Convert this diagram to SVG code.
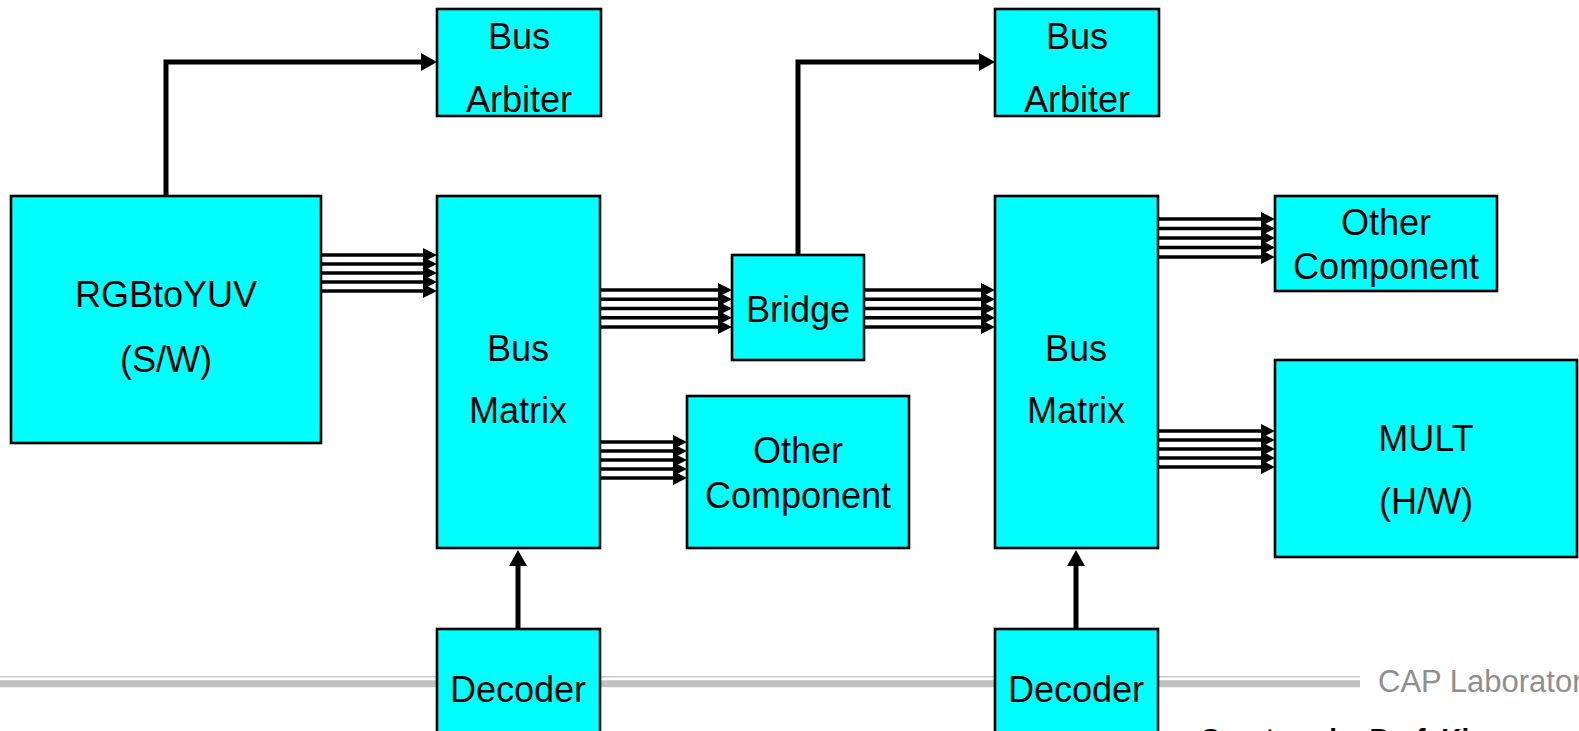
<svg xmlns="http://www.w3.org/2000/svg" width="1579" height="731" viewBox="0 0 1579 731">
<style>
.box{fill:#00ffff;stroke:#000;stroke-width:2.6}
.t{font-family:"Liberation Sans",Arial,sans-serif;font-size:36px;fill:#000;text-anchor:middle}
.bus{stroke:#000;stroke-width:3.4;fill:none;marker-end:url(#sa)}
.ctl{stroke:#000;stroke-width:5;fill:none;marker-end:url(#la)}
</style>
<defs>
<marker id="sa" viewBox="0 0 14 14" refX="0" refY="7" markerWidth="14" markerHeight="14" markerUnits="userSpaceOnUse" orient="auto"><path d="M0,0 L14,7 L0,14 Z" fill="#000"/></marker>
<marker id="la" viewBox="0 0 16 18" refX="0" refY="9" markerWidth="16" markerHeight="18" markerUnits="userSpaceOnUse" orient="auto"><path d="M0,0 L16,9 L0,18 Z" fill="#000"/></marker>
</defs>
<rect width="1579" height="731" fill="#fff"/>
<g id="footer">
<line x1="0" y1="676.7" x2="1360" y2="676.7" stroke="#c8c8c8" stroke-width="1.6"/>
<line x1="0" y1="683.8" x2="1360" y2="683.8" stroke="#c0c0c0" stroke-width="7"/>
<text x="1378" y="692" style="font-family:'Liberation Sans',Arial,sans-serif;font-size:31px;fill:#8e8e8e">CAP Laboratory</text>
<text x="1200" y="748" style="font-family:'Liberation Sans',Arial,sans-serif;font-size:28px;font-weight:bold;fill:#000">Courtesy by Prof. Kim</text>
</g>
<g id="connectors">
<path class="ctl" d="M166,196 V62 H421"/>
<path class="ctl" d="M798,255 V62 H979"/>
<path class="ctl" d="M518,629 V566"/>
<path class="ctl" d="M1076,629 V566"/>
<g id="bus-rgb-bm1">
<path class="bus" d="M321,255 H423"/><path class="bus" d="M321,264 H423"/><path class="bus" d="M321,273 H423"/><path class="bus" d="M321,282 H423"/><path class="bus" d="M321,291 H423"/>
</g>
<g id="bus-bm1-bridge">
<path class="bus" d="M600,290 H718"/><path class="bus" d="M600,299.2 H718"/><path class="bus" d="M600,308.5 H718"/><path class="bus" d="M600,317.8 H718"/><path class="bus" d="M600,327 H718"/>
</g>
<g id="bus-bridge-bm2">
<path class="bus" d="M864,290 H981"/><path class="bus" d="M864,299.2 H981"/><path class="bus" d="M864,308.5 H981"/><path class="bus" d="M864,317.8 H981"/><path class="bus" d="M864,327 H981"/>
</g>
<g id="bus-bm1-oc1">
<path class="bus" d="M600,442 H673"/><path class="bus" d="M600,451 H673"/><path class="bus" d="M600,460 H673"/><path class="bus" d="M600,469 H673"/><path class="bus" d="M600,478 H673"/>
</g>
<g id="bus-bm2-oc2">
<path class="bus" d="M1158,219 H1261"/><path class="bus" d="M1158,228.5 H1261"/><path class="bus" d="M1158,238 H1261"/><path class="bus" d="M1158,247.5 H1261"/><path class="bus" d="M1158,257 H1261"/>
</g>
<g id="bus-bm2-mult">
<path class="bus" d="M1158,431 H1261"/><path class="bus" d="M1158,440 H1261"/><path class="bus" d="M1158,449 H1261"/><path class="bus" d="M1158,458 H1261"/><path class="bus" d="M1158,467 H1261"/>
</g>
</g>
<g id="arbiter1"><rect class="box" x="437" y="9" width="164" height="107"/><text class="t" x="519" y="49">Bus</text><text class="t" x="519" y="112">Arbiter</text></g>
<g id="arbiter2"><rect class="box" x="995" y="9" width="164" height="107"/><text class="t" x="1077" y="49">Bus</text><text class="t" x="1077" y="112">Arbiter</text></g>
<g id="rgbtoyuv"><rect class="box" x="11" y="196" width="310" height="247"/><text class="t" x="166" y="307">RGBtoYUV</text><text class="t" x="166" y="372">(S/W)</text></g>
<g id="busmatrix1"><rect class="box" x="437" y="196" width="163" height="352"/><text class="t" x="518" y="361">Bus</text><text class="t" x="518" y="423">Matrix</text></g>
<g id="bridge"><rect class="box" x="732" y="255" width="132" height="105"/><text class="t" x="798" y="322">Bridge</text></g>
<g id="other1"><rect class="box" x="687" y="396" width="222" height="152"/><text class="t" x="798" y="463">Other</text><text class="t" x="798" y="508">Component</text></g>
<g id="busmatrix2"><rect class="box" x="995" y="196" width="163" height="352"/><text class="t" x="1076" y="361">Bus</text><text class="t" x="1076" y="423">Matrix</text></g>
<g id="other2"><rect class="box" x="1275" y="196" width="222" height="95"/><text class="t" x="1386" y="235">Other</text><text class="t" x="1386" y="279">Component</text></g>
<g id="mult"><rect class="box" x="1275" y="360" width="302" height="197"/><text class="t" x="1426" y="451">MULT</text><text class="t" x="1426" y="514">(H/W)</text></g>
<g id="decoder1"><rect class="box" x="437" y="629" width="163" height="130"/><text class="t" x="518" y="702">Decoder</text></g>
<g id="decoder2"><rect class="box" x="995" y="629" width="163" height="130"/><text class="t" x="1076" y="702">Decoder</text></g>
</svg>
